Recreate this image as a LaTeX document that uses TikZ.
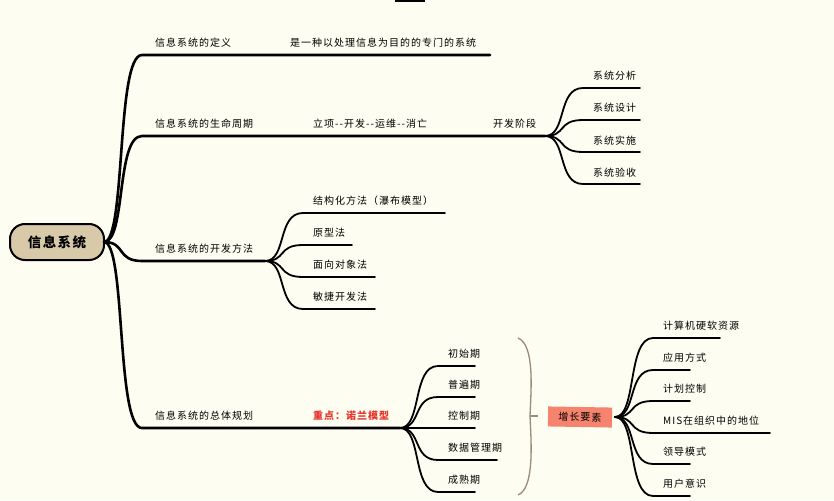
\documentclass[tikz,border=0pt]{standalone}
\usepackage{fontspec}
\setmainfont[LetterSpace=10]{Noto Sans CJK SC}
\definecolor{bg}{HTML}{FDFDF1}
\definecolor{tan}{HTML}{D8C9A9}
\definecolor{salmon}{HTML}{F5836E}
\definecolor{brk}{HTML}{9C8A78}
\definecolor{redt}{HTML}{E8322A}
\tikzset{
  lbl/.style={anchor=base west,inner sep=0pt,font=\fontsize{10}{12}\selectfont},
}
\newcommand\brc[3]{\draw[line width=#3,line cap=round] (#1) .. controls ($(#1)+(22,0)$) and ($(#1 |- #2)+(12,0)$) .. ($(#1 |- #2)+(38,0)$) -- (#2);}
\usetikzlibrary{calc}
\begin{document}
\begin{tikzpicture}[x=1pt,y=-1pt]
\fill[bg] (0,0) rectangle (834,500);
\useasboundingbox (0,0) rectangle (834,500);
\draw[line width=2pt] (395,1) -- (425,1);
\node[draw,line width=2pt,fill=tan,rounded corners=15pt,minimum width=94pt,minimum height=36pt,font=\bfseries\fontsize{13.5}{15}\selectfont] (root) at (57,242) {信息系统};
\coordinate (r) at (104,242);
\coordinate (e1) at (490,55);
\coordinate (e2) at (545,136);
\coordinate (e3) at (265,261);
\coordinate (e4) at (400,428);
\brc{r}{e1}{2.6pt}
\brc{r}{e2}{2.6pt}
\brc{r}{e3}{2.6pt}
\brc{r}{e4}{2.6pt}
\node[lbl] (t1) at (155,47) {信息系统的定义};
\node[lbl] (t1b) at (290,47) {是一种以处理信息为目的的专门的系统};
\node[lbl] (t2) at (155,128) {信息系统的生命周期};
\node[lbl] (t2b) at (313,128) {立项-{}-开发-{}-运维-{}-消亡};
\node[lbl] (t2c) at (493,128) {开发阶段};
\node[lbl] (t3) at (155,252) {信息系统的开发方法};
\node[lbl] (t4) at (155,419) {信息系统的总体规划};
\node[lbl,text=redt,font=\bfseries\fontsize{10}{12}\selectfont] (t4b) at (313,419) {重点：诺兰模型};
\foreach \y/\t [count=\i] in {88/系统分析,120/系统设计,152/系统实施,184/系统验收}{
  \coordinate (s\i) at (640,\y);
  \brc{e2}{s\i}{1.8pt}
  \node[lbl] (st\i) at (593,\y-8) {\t};
}
\foreach \y/\x/\t [count=\i] in {213/445/结构化方法（瀑布模型）,245/352/原型法,277/375/面向对象法,309/375/敏捷开发法}{
  \coordinate (m\i) at (\x,\y);
  \brc{e3}{m\i}{1.8pt}
  \node[lbl] (mt\i) at (313,\y-9) {\t};
}
\foreach \y/\x/\t [count=\i] in {366/475/初始期,397/475/普遍期,428/475/控制期,460/497/数据管理期,492/475/成熟期}{
  \coordinate (n\i) at (\x,\y);
  \brc{e4}{n\i}{1.8pt}
  \node[lbl] (nt\i) at (448,\y-9) {\t};
}
\coordinate (b1) at (518,338);
\coordinate (b2) at (518,495);
\coordinate (bm) at (530,416);
\draw[brk,line width=1.3pt] (b1) .. controls (535,345) and (531,390) .. (bm) .. controls (531,440) and (535,488) .. (b2);
\draw[brk,line width=1.3pt] (bm) -- (538,416);
\node[fill=salmon,minimum width=64pt,minimum height=20pt,inner sep=0pt,font=\fontsize{10}{12}\selectfont,rotate=-1] (g) at (580,417) {增长要素};
\coordinate (gr) at (615,417);
\foreach \y/\x/\t [count=\i] in {338/720/计算机硬软资源,370/690/应用方式,401/690/计划控制,433/770/MIS在组织中的地位,464/690/领导模式,496/690/用户意识}{
  \coordinate (f\i) at (\x,\y);
  \brc{gr}{f\i}{1.8pt}
  \node[lbl] (ft\i) at (663,\y-9) {\t};
}
\end{tikzpicture}
\end{document}
